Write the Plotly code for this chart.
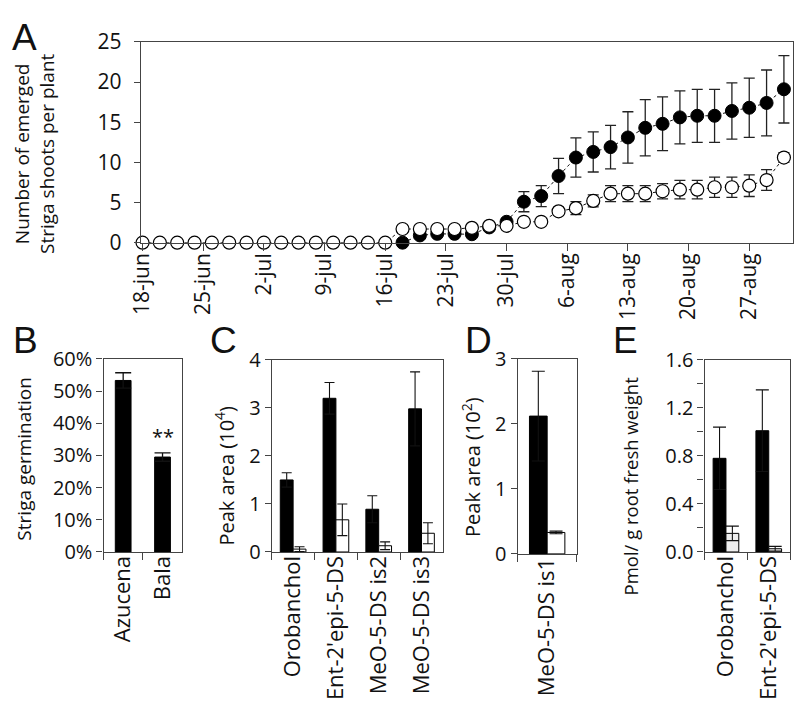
import plotly.graph_objects as go

# ---------------- Panel A data ----------------
dates = ["2010-06-18", "2010-06-20", "2010-06-22", "2010-06-24", "2010-06-26", "2010-06-28",
         "2010-06-30", "2010-07-02", "2010-07-04", "2010-07-06", "2010-07-08", "2010-07-10",
         "2010-07-12", "2010-07-14", "2010-07-16", "2010-07-18", "2010-07-20", "2010-07-22",
         "2010-07-24", "2010-07-26", "2010-07-28", "2010-07-30", "2010-08-01", "2010-08-03",
         "2010-08-05", "2010-08-07", "2010-08-09", "2010-08-11", "2010-08-13", "2010-08-15",
         "2010-08-17", "2010-08-19", "2010-08-21", "2010-08-23", "2010-08-25", "2010-08-27",
         "2010-08-29", "2010-08-31"]
open_vals = [0, 0, 0, 0, 0, 0, 0, 0, 0, 0, 0, 0, 0, 0, 0,
             1.7, 1.7, 1.7, 1.7, 1.85, 2.1, 2.1, 2.6, 2.6, 3.9, 4.3, 5.2, 6.1, 6.1, 6.1,
             6.4, 6.6, 6.6, 6.9, 6.9, 7.1, 7.8, 10.6]
open_err = [0, 0, 0, 0, 0, 0, 0, 0, 0, 0, 0, 0, 0, 0, 0,
            0.35, 0.3, 0.3, 0.3, 0.35, 0.3, 0.3, 0.3, 0.3, 0.5, 0.8, 0.75, 1.0, 1.0, 1.0,
            0.95, 1.15, 1.15, 1.25, 1.25, 1.35, 1.3, 0.6]
black_vals = [None, None, None, None, None, None, None, None, None, None,
              None, None, None, None, None,
              0, 0.9, 1.1, 1.1, 1.05, 1.9, 2.6, 5.1, 5.8, 8.3, 10.6, 11.3, 11.9, 13.1, 14.3,
              14.8, 15.6, 15.8, 15.8, 16.4, 16.8, 17.4, 19.1]
black_err = [0, 0, 0, 0, 0, 0, 0, 0, 0, 0, 0, 0, 0, 0, 0,
             0, 0.2, 0.25, 0.25, 0.25, 0.3, 0.4, 1.25, 1.3, 2.2, 2.45, 2.5, 2.7, 3.2, 3.5,
             3.35, 3.3, 3.3, 3.3, 3.5, 3.7, 4.1, 4.2]
tick_dates = ["2010-06-18", "2010-06-25", "2010-07-02", "2010-07-09", "2010-07-16",
              "2010-07-23", "2010-07-30", "2010-08-06", "2010-08-13", "2010-08-20",
              "2010-08-27"]
tick_labels = ["18-jun", "25-jun", "2-jul", "9-jul", "16-jul", "23-jul", "30-jul",
               "6-aug", "13-aug", "20-aug", "27-aug"]

# ---------------- Panel B data ----------------
b_cats = ["Azucena", "Bala"]
b_vals = [0.533, 0.295]
b_err = [0.024, 0.013]

# ---------------- Panel C data ----------------
c_cats = ["Orobanchol", "Ent-2'epi-5-DS", "MeO-5-DS is2", "MeO-5-DS is3"]
c_black = [1.5, 3.2, 0.89, 2.98]
c_black_err = [0.15, 0.33, 0.28, 0.77]
c_white = [0.06, 0.67, 0.13, 0.39]
c_white_err = [0.05, 0.33, 0.08, 0.22]

# ---------------- Panel D data ----------------
d_cats = ["MeO-5-DS is1"]
d_black = [2.12]
d_black_err = [0.69]
d_white = [0.33]
d_white_err = [0.02]

# ---------------- Panel E data ----------------
e_cats = ["Orobanchol", "Ent-2'epi-5-DS"]
e_black = [0.78, 1.01]
e_black_err = [0.26, 0.34]
e_white = [0.155, 0.027]
e_white_err = [0.06, 0.02]

W, H = 799, 711
FONT = "Open Sans"
TXT = "#111111"
AX = "#444444"


def px_x(a, b):
    return [a / W, b / W]


def px_y(top, bottom):
    return [1 - bottom / H, 1 - top / H]


fig = go.Figure()

# Panel A traces
fig.add_trace(go.Scatter(
    x=dates, y=black_vals, mode="lines+markers", xaxis="x", yaxis="y",
    line=dict(color="#111", width=1, dash="dot"),
    marker=dict(size=13, color="black", line=dict(color="black", width=1)),
    error_y=dict(type="data", array=black_err, color="#222", thickness=1.3, width=5.5),
    cliponaxis=False, showlegend=False, connectgaps=False))
fig.add_trace(go.Scatter(
    x=dates, y=open_vals, mode="lines+markers", xaxis="x", yaxis="y",
    line=dict(color="#111", width=1, dash="dot"),
    marker=dict(size=13, color="white", line=dict(color="black", width=1.2)),
    error_y=dict(type="data", array=open_err, color="#222", thickness=1.3, width=5.5),
    cliponaxis=False, showlegend=False))

# Panel B
fig.add_trace(go.Bar(x=b_cats, y=b_vals, xaxis="x2", yaxis="y2", width=0.4,
                     marker=dict(color="black", line=dict(color="black", width=1)),
                     error_y=dict(type="data", array=b_err, color="#111", thickness=1.3, width=8),
                     showlegend=False))

# Panel C
fig.add_trace(go.Bar(x=c_cats, y=c_black, xaxis="x3", yaxis="y3",
                     marker=dict(color="black", line=dict(color="black", width=1)),
                     error_y=dict(type="data", array=c_black_err, color="#111", thickness=1.1, width=5),
                     showlegend=False))
fig.add_trace(go.Bar(x=c_cats, y=c_white, xaxis="x3", yaxis="y3",
                     marker=dict(color="white", line=dict(color="black", width=1)),
                     error_y=dict(type="data", array=c_white_err, color="#111", thickness=1.1, width=5),
                     showlegend=False))

# Panel D
fig.add_trace(go.Bar(x=d_cats, y=d_black, xaxis="x4", yaxis="y4",
                     marker=dict(color="black", line=dict(color="black", width=1)),
                     error_y=dict(type="data", array=d_black_err, color="#111", thickness=1.1, width=6.5),
                     showlegend=False))
fig.add_trace(go.Bar(x=d_cats, y=d_white, xaxis="x4", yaxis="y4",
                     marker=dict(color="white", line=dict(color="black", width=1)),
                     error_y=dict(type="data", array=d_white_err, color="#111", thickness=1.1, width=6.5),
                     showlegend=False))

# Panel E
fig.add_trace(go.Bar(x=e_cats, y=e_black, xaxis="x5", yaxis="y5",
                     marker=dict(color="black", line=dict(color="black", width=1)),
                     error_y=dict(type="data", array=e_black_err, color="#111", thickness=1.1, width=6.5),
                     showlegend=False))
fig.add_trace(go.Bar(x=e_cats, y=e_white, xaxis="x5", yaxis="y5",
                     marker=dict(color="#eeeeee", line=dict(color="black", width=1)),
                     error_y=dict(type="data", array=e_white_err, color="#111", thickness=1.1, width=6.5),
                     showlegend=False))

common = dict(showgrid=False, zeroline=False, showline=True, linecolor=AX, linewidth=1.3,
              mirror=True, ticks="outside", ticklen=6, tickcolor=AX, tickwidth=1.3,
              tickfont=dict(family=FONT, size=20, color=TXT))
cat_x = dict(common, tickson="boundaries", ticklen=7, tickangle=-90, ticklabelstandoff=-6,
             tickfont=dict(family=FONT, size=22, color=TXT))

fig.update_layout(
    width=W, height=H, margin=dict(l=0, r=0, t=0, b=0),
    paper_bgcolor="white", plot_bgcolor="white",
    barmode="group", bargap=0.4, bargroupgap=0,
    font=dict(family=FONT, color=TXT),
    xaxis=dict(common, type="date", domain=px_x(130, 793), anchor="y",
               range=["2010-06-17 19:26", "2010-09-01 01:26"],
               tickvals=tick_dates, ticktext=tick_labels, tickangle=-90, ticklen=7,
               ticklabelstandoff=-6,
               tickfont=dict(family=FONT, size=21, color=TXT)),
    yaxis=dict(common, domain=px_y(28, 237), anchor="x", range=[0, 25], dtick=5,
               ticklabelstandoff=8,
               tickfont=dict(family=FONT, size=21, color=TXT)),
    xaxis2=dict(cat_x, domain=px_x(92, 172), anchor="y2"),
    yaxis2=dict(common, domain=px_y(358, 559), anchor="x2", range=[0, 0.6], dtick=0.1,
                tickformat=".0%"),
    xaxis3=dict(cat_x, domain=px_x(263, 437), anchor="y3"),
    yaxis3=dict(common, domain=px_y(359, 559), anchor="x3", range=[0, 4], dtick=1),
    xaxis4=dict(cat_x, domain=px_x(513, 573), anchor="y4"),
    yaxis4=dict(common, domain=px_y(358, 561), anchor="x4", range=[0, 3], dtick=1),
    xaxis5=dict(cat_x, domain=px_x(703, 790), anchor="y5"),
    yaxis5=dict(common, domain=px_y(359, 559), anchor="x5", range=[0, 1.6],
                tickvals=[0, 0.4, 0.8, 1.2, 1.6], tickformat=".1f",
                minor=dict(ticks="outside", dtick=0.2, ticklen=6, tickcolor=AX, tickwidth=1.3)),
)

ann = []


def paper_text(text, x, y, size, angle=0, family=FONT):
    ann.append(dict(text=text, x=x / W, y=1 - y / H, xref="paper", yref="paper",
                    showarrow=False, textangle=angle, xanchor="center", yanchor="middle",
                    font=dict(family=family, size=size, color=TXT)))


# axis titles
paper_text("Number of emerged<br>Striga shoots per plant", 22, 144, 19, -90)
paper_text("Striga germination", 11, 462, 19, -90)
paper_text("Peak area (10<sup>4</sup>)", 215, 480, 20, -90)
paper_text("Peak area (10<sup>2</sup>)", 466, 470, 20, -90)
paper_text("Pmol/ g root fresh weight", 628, 490, 18.5, -90)

# panel letters
for letter, x, y in [("A", 12, 23), ("B", 13, 339), ("C", 214, 339), ("D", 473, 339), ("E", 623, 339)]:
    paper_text(letter, x, y, 37, 0, "Arial")

# significance marker
ann.append(dict(text="**", x="Bala", y=0.36, xref="x2", yref="y2", showarrow=False,
                font=dict(family=FONT, size=20, color=TXT)))

fig.update_layout(annotations=ann)

fig.write_html("out.html", config={"displayModeBar": False},
               post_script="document.body.style.margin='0';document.body.style.overflow='hidden';")
